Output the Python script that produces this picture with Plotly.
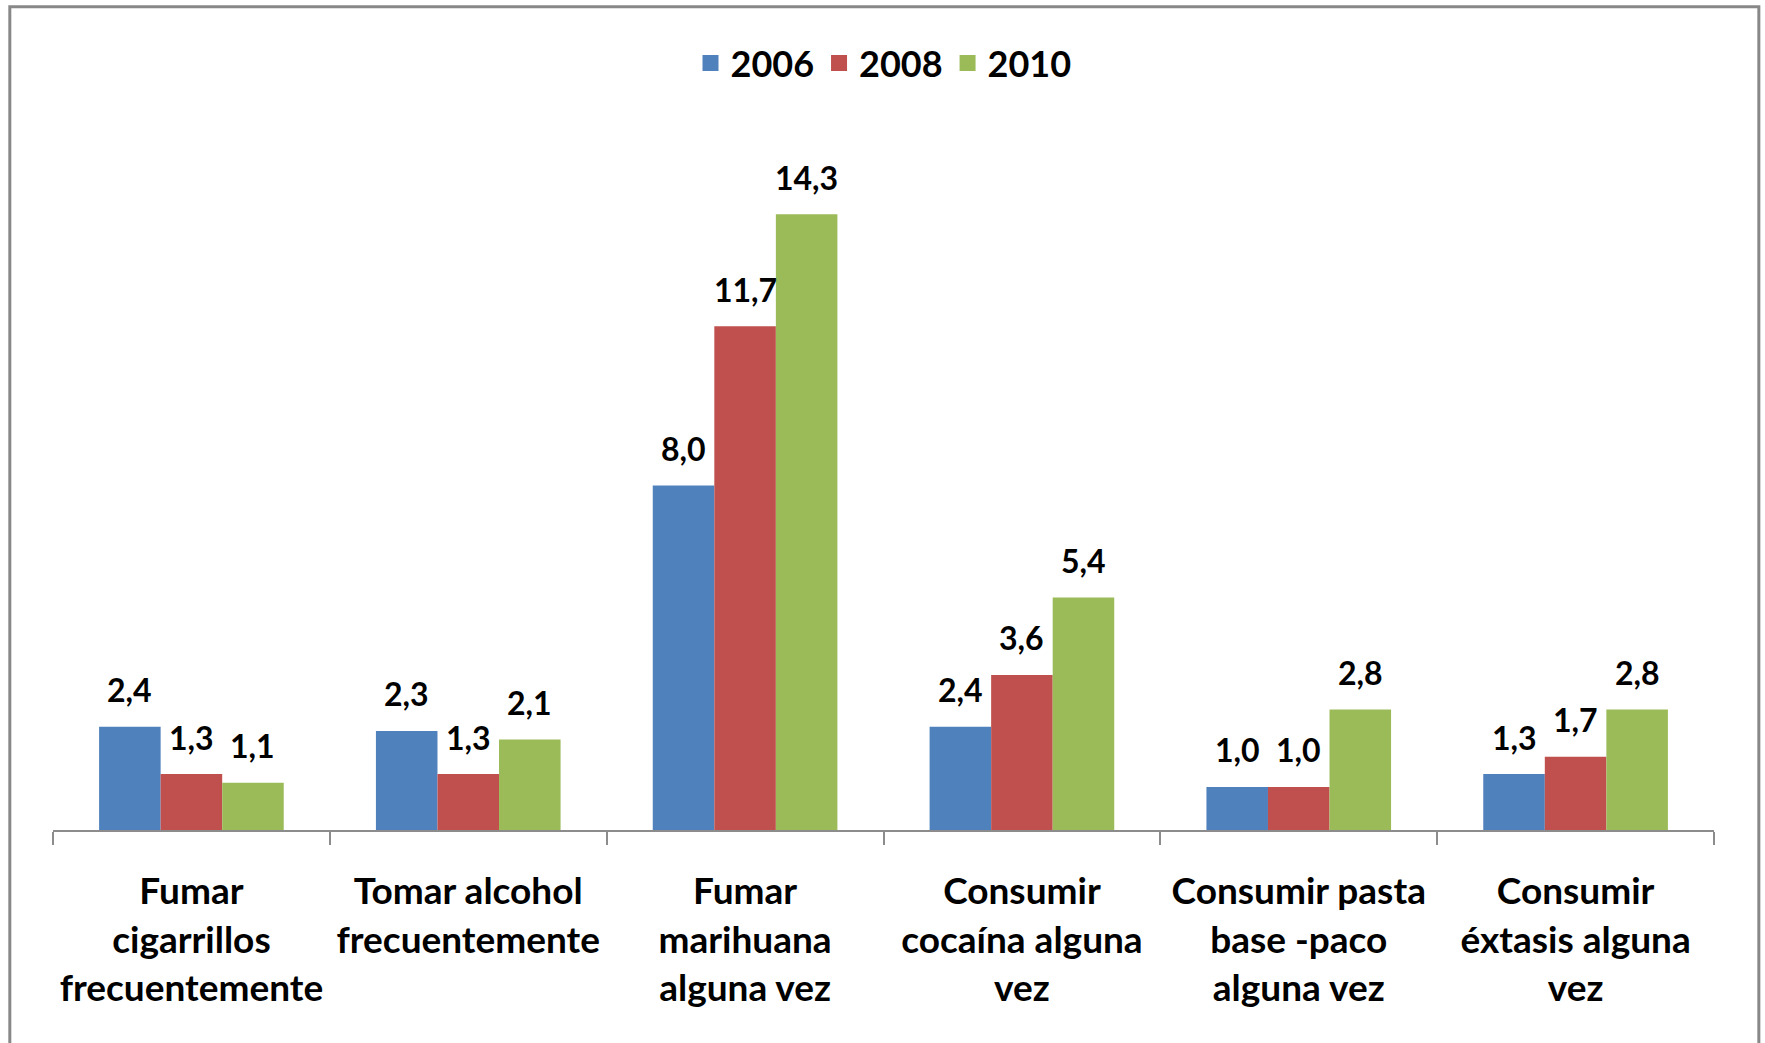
import plotly.graph_objects as go

# ── Datos ─────────────────────────────────────────────────────────────────────
categorias = [
    "Fumar<br>cigarrillos<br>frecuentemente",
    "Tomar alcohol<br>frecuentemente<br> ",
    "Fumar<br>marihuana<br>alguna vez",
    "Consumir<br>cocaína alguna<br>vez",
    "Consumir pasta<br>base -paco<br>alguna vez",
    "Consumir<br>éxtasis alguna<br>vez",
]
anios = ["2006", "2008", "2010"]
v2006 = [2.4, 2.3, 8.0, 2.4, 1.0, 1.3]
v2008 = [1.3, 1.3, 11.7, 3.6, 1.0, 1.7]
v2010 = [1.1, 2.1, 14.3, 5.4, 2.8, 2.8]

COLORS = {"2006": "#4F81BD", "2008": "#C0504D", "2010": "#9BBB59"}
FONT = "Lato, 'Open Sans', Arial, sans-serif"
BAR_PX = 61.5  # ancho de cada barra en px (para centrar etiquetas)


def _fmt(v):
    return f"{v:.1f}".replace(".", ",")


fig = go.Figure()
for i, (anio, vals) in enumerate(zip(anios, [v2006, v2008, v2010])):
    fig.add_trace(go.Bar(
        x=categorias, y=vals, name=anio, showlegend=False,
        marker=dict(color=COLORS[anio], line_width=0),
    ))
    # etiquetas de valor (con más separación que el texto "outside")
    for cat, v in zip(categorias, vals):
        fig.add_annotation(
            x=cat, y=v, text=_fmt(v), showarrow=False,
            xshift=(i - 1) * BAR_PX, yshift=37, yanchor="middle",
            font=dict(size=32, color="black", family=FONT, weight="bold"),
        )

# entradas de leyenda con cuadrados más grandes
for anio in anios:
    fig.add_trace(go.Scatter(
        x=[None], y=[None], mode="markers", name=anio,
        marker=dict(symbol="square", size=16, color=COLORS[anio]),
    ))

fig.update_layout(
    width=1765, height=1043,
    margin=dict(l=53, r=51, t=141, b=213, autoexpand=False),
    paper_bgcolor="white", plot_bgcolor="white",
    barmode="group", bargap=0.333, bargroupgap=0,
    font=dict(family=FONT, color="black"),
    legend=dict(
        orientation="h", x=0.5, xanchor="center", y=1.113, yanchor="middle",
        font=dict(size=36, weight="bold"), itemwidth=30,
    ),
)
fig.update_xaxes(
    showline=True, linecolor="#8c8c8c", linewidth=2,
    ticks="outside", tickson="boundaries", ticklen=13, tickcolor="#8c8c8c", tickwidth=2,
    tickfont=dict(size=37, weight="bold"), ticklabelstandoff=28,
    tickangle=0, automargin=False,
    showgrid=False,
)
fig.update_yaxes(range=[0, 16], visible=False)

# marco exterior
fig.add_shape(
    type="rect", xref="paper", yref="paper",
    x0=-0.026, x1=1.027, y0=-0.35, y1=1.195,
    line=dict(color="#888888", width=3),
)

fig.write_html(
    "out.html",
    config={"displayModeBar": False},
    post_script="document.body.style.margin='0';",
)
